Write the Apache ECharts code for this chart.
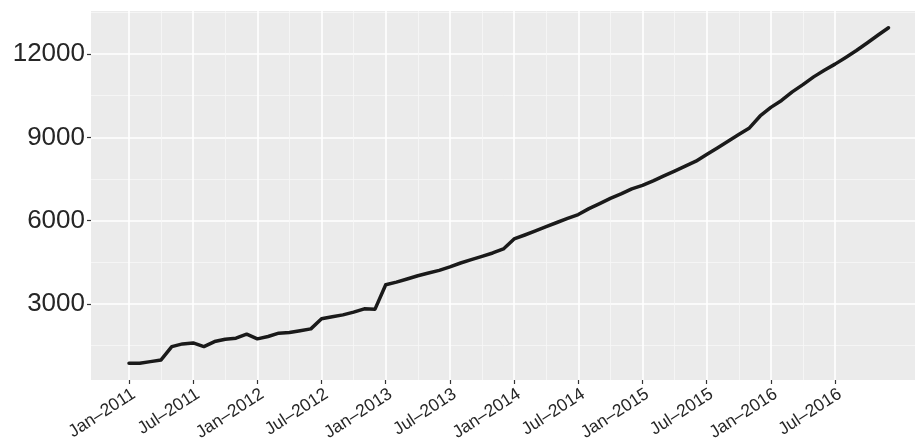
<!DOCTYPE html>
<html>
<head>
<meta charset="utf-8">
<script src="https://cdn.jsdelivr.net/npm/echarts@6/dist/echarts.min.js"></script>
<style>
html,body{margin:0;padding:0;background:#fff;}
#c{width:915px;height:438px;}
</style>
</head>
<body>
<div id="c"></div>
<script>
// Monthly values, Jan-2011 .. Dec-2016
var months = [];
(function(){
  var m = ['Jan','Feb','Mar','Apr','May','Jun','Jul','Aug','Sep','Oct','Nov','Dec'];
  for (var y = 2011; y <= 2016; y++) for (var k = 0; k < 12; k++) months.push(m[k] + '\u2013' + y);
})();
var values2011 = [857, 857, 915, 976, 1457, 1554, 1590, 1457, 1638, 1724, 1760, 1905];
var values2012 = [1735, 1820, 1940, 1964, 2030, 2096, 2458, 2530, 2600, 2700, 2819, 2807];
var values2013 = [3687, 3780, 3892, 4012, 4109, 4203, 4330, 4470, 4590, 4710, 4832, 4977];
var values2014 = [5338, 5480, 5630, 5780, 5930, 6075, 6216, 6430, 6610, 6800, 6960, 7145];
var values2015 = [7270, 7430, 7610, 7780, 7960, 8140, 8385, 8620, 8860, 9100, 9340, 9770];
var values2016 = [10080, 10330, 10640, 10900, 11180, 11420, 11640, 11880, 12130, 12400, 12680, 12950];
var values = [].concat(values2011, values2012, values2013, values2014, values2015, values2016);

// x tick labels (every 6 months) and y ticks
var xTickLabels = ['Jan\u20132011','Jul\u20132011','Jan\u20132012','Jul\u20132012','Jan\u20132013','Jul\u20132013',
  'Jan\u20132014','Jul\u20132014','Jan\u20132015','Jul\u20132015','Jan\u20132016','Jul\u20132016'];
var yTicks = [3000, 6000, 9000, 12000];
var yMinorTicks = [1500, 4500, 7500, 10500, 13500];

var xMajor = xTickLabels.map(function(l){ return months.indexOf(l); });
var xMinor = [];
for (var i = 0; i < xMajor.length - 1; i++) xMinor.push((xMajor[i] + xMajor[i+1]) / 2);

var data = values.map(function(v, i){ return [i, v]; });

var n = values.length;
var xPad = (n - 1) * 0.05;
var vmin = Math.min.apply(null, values), vmax = Math.max.apply(null, values);
var yPad = (vmax - vmin) * 0.05;
var xMin = -xPad, xMax = n - 1 + xPad, yMin = vmin - yPad, yMax = vmax + yPad;

var font = "'Liberation Sans', Arial, Helvetica, sans-serif";
var chart = echarts.init(document.getElementById('c'), null, {renderer: 'canvas'});
chart.setOption({
  animation: false,
  backgroundColor: '#ffffff',
  grid: {left: 91, top: 11, width: 835.5, height: 369, show: true, backgroundColor: '#EBEBEB', borderWidth: 0,
    containLabel: false, outerBoundsMode: 'none'},
  xAxis: [{
    type: 'value', min: xMin, max: xMax,
    axisLine: {show: false, onZero: false},
    axisTick: {show: true, length: 4, lineStyle: {color: '#333333', width: 1.2}, customValues: xMajor},
    axisLabel: {show: true, customValues: xMajor, rotate: 33, margin: 5, align: 'right', verticalAlign: 'top',
      fontSize: 17.5, color: '#262626', fontFamily: font,
      formatter: function(v){ var k = Math.round(v); return months[k] || ''; }},
    splitLine: {show: true, lineStyle: {color: '#ffffff', width: 1.6}}
  }, {
    type: 'value', min: xMin, max: xMax, position: 'bottom',
    axisLine: {show: false, onZero: false},
    axisTick: {show: false, customValues: xMinor},
    axisLabel: {show: false, customValues: xMinor},
    splitLine: {show: true, lineStyle: {color: '#F7F7F7', width: 0.8}}
  }],
  yAxis: [{
    type: 'value', min: yMin, max: yMax,
    axisLine: {show: false, onZero: false},
    axisTick: {show: true, length: 4, lineStyle: {color: '#333333', width: 1.2}, customValues: yTicks},
    axisLabel: {show: true, customValues: yTicks, margin: 6, fontSize: 26, color: '#262626', fontFamily: font,
      formatter: function(v){ return String(Math.round(v)); }},
    splitLine: {show: true, lineStyle: {color: '#ffffff', width: 1.6}}
  }, {
    type: 'value', min: yMin, max: yMax, position: 'left',
    axisLine: {show: false, onZero: false},
    axisTick: {show: false, customValues: yMinorTicks},
    axisLabel: {show: false, customValues: yMinorTicks},
    splitLine: {show: true, lineStyle: {color: '#F7F7F7', width: 0.8}}
  }],
  series: [{
    type: 'line', data: data, xAxisIndex: 0, yAxisIndex: 0,
    showSymbol: false, symbol: 'none', smooth: false,
    lineStyle: {color: '#1a1a1a', width: 3.5, join: 'round', cap: 'round'},
    z: 5
  }]
});
</script>
</body>
</html>
